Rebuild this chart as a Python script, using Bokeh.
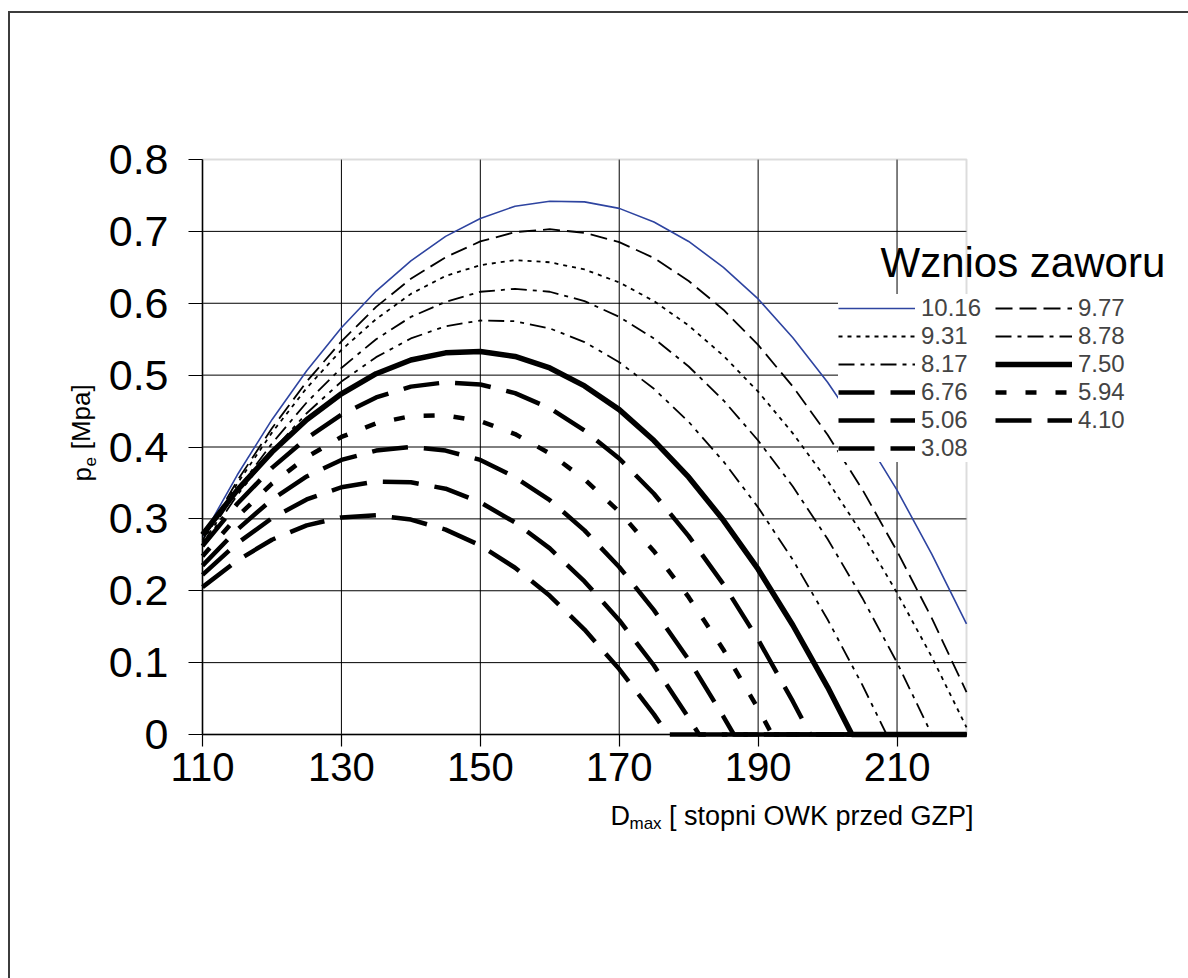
from bokeh.plotting import figure
from bokeh.models import Legend, LegendItem, Label, FixedTicker, Range1d, BoxAnnotation
from bokeh.embed import file_html
from bokeh.resources import INLINE

# ---------------- data ----------------
x_ticks = [110, 130, 150, 170, 190, 210]
y_ticks = [0, 0.1, 0.2, 0.3, 0.4, 0.5, 0.6, 0.7, 0.8]
y_tick_labels = ["0", "0.1", "0.2", "0.3", "0.4", "0.5", "0.6", "0.7", "0.8"]

lift_labels = ["10.16", "9.77", "9.31", "8.78", "8.17", "7.50",
               "6.76", "5.94", "5.06", "4.10", "3.08"]

x_full = [110, 115, 120, 125, 130, 135, 140, 145, 150, 155, 160, 165,
          170, 175, 180, 185, 190, 195, 200, 205, 210, 215, 220]

y_10_16 = [0.275, 0.361, 0.438, 0.506, 0.566, 0.617, 0.659, 0.693, 0.718, 0.735, 0.742, 0.741,
           0.732, 0.713, 0.686, 0.650, 0.606, 0.552, 0.490, 0.419, 0.340, 0.251, 0.154]
y_9_77 = [0.270, 0.353, 0.426, 0.491, 0.547, 0.595, 0.634, 0.664, 0.686, 0.699, 0.703, 0.698,
          0.685, 0.663, 0.631, 0.591, 0.542, 0.484, 0.417, 0.341, 0.255, 0.162, 0.059]
y_9_31 = [0.268, 0.349, 0.420, 0.482, 0.535, 0.578, 0.613, 0.638, 0.653, 0.660, 0.657, 0.647,
          0.629, 0.603, 0.569, 0.527, 0.477, 0.419, 0.353, 0.279, 0.197, 0.108, 0.010]
y_8_78 = [0.265, 0.340, 0.405, 0.462, 0.510, 0.550, 0.581, 0.602, 0.616, 0.620, 0.616, 0.603,
          0.581, 0.551, 0.512, 0.465, 0.409, 0.345, 0.272, 0.190, 0.100, 0.0, 0.0]

x_8_17 = [110, 115, 120, 125, 130, 135, 140, 145, 150, 155, 160, 165, 170, 175, 180, 185,
          190, 195, 200, 205, 208.5, 220]
y_8_17 = [0.262, 0.333, 0.394, 0.447, 0.491, 0.525, 0.551, 0.568, 0.576, 0.575, 0.565, 0.546,
          0.518, 0.481, 0.435, 0.380, 0.316, 0.243, 0.160, 0.069, 0.0, 0.0]

x_7_50 = [110, 115, 120, 125, 130, 135, 140, 145, 150, 155, 160, 165, 170, 175, 180, 185,
          190, 195, 200, 203.5, 220]
y_7_50 = [0.278, 0.340, 0.393, 0.438, 0.474, 0.502, 0.521, 0.531, 0.533, 0.526, 0.510, 0.485,
          0.452, 0.409, 0.358, 0.298, 0.230, 0.152, 0.066, 0.0, 0.0]

x_6_76 = [110, 115, 120, 125, 130, 135, 140, 145, 150, 155, 160, 165, 170, 175, 180, 185,
          190, 195, 197.5, 220]
y_6_76 = [0.262, 0.321, 0.371, 0.412, 0.445, 0.469, 0.484, 0.490, 0.487, 0.475, 0.454, 0.423,
          0.384, 0.335, 0.276, 0.209, 0.132, 0.046, 0.0, 0.0]

x_5_94 = [110, 115, 120, 125, 130, 135, 140, 145, 150, 155, 160, 165, 170, 175, 180, 185,
          190, 192, 220]
y_5_94 = [0.248, 0.303, 0.349, 0.386, 0.414, 0.433, 0.443, 0.444, 0.436, 0.418, 0.391, 0.355,
          0.310, 0.255, 0.191, 0.118, 0.036, 0.0, 0.0]

x_5_06 = [110, 115, 120, 125, 130, 135, 140, 145, 150, 155, 160, 165, 170, 175, 180, 185,
          186.5, 220]
y_5_06 = [0.235, 0.285, 0.327, 0.359, 0.382, 0.395, 0.400, 0.395, 0.382, 0.358, 0.326, 0.284,
          0.233, 0.173, 0.104, 0.025, 0.0, 0.0]

x_4_10 = [110, 115, 120, 125, 130, 135, 140, 145, 150, 155, 160, 165, 170, 175, 180, 181.5, 220]
y_4_10 = [0.222, 0.266, 0.301, 0.327, 0.344, 0.352, 0.351, 0.342, 0.323, 0.295, 0.259, 0.213,
          0.159, 0.096, 0.023, 0.0, 0.0]

x_3_08 = [110, 115, 120, 125, 130, 135, 140, 145, 150, 155, 160, 165, 170, 175, 177, 220]
y_3_08 = [0.205, 0.242, 0.271, 0.291, 0.302, 0.305, 0.299, 0.285, 0.263, 0.232, 0.193, 0.146,
          0.091, 0.028, 0.0, 0.0]

series_x = [x_full, x_full, x_full, x_full, x_8_17, x_7_50, x_6_76, x_5_94, x_5_06, x_4_10, x_3_08]
series_y = [y_10_16, y_9_77, y_9_31, y_8_78, y_8_17, y_7_50, y_6_76, y_5_94, y_5_06, y_4_10, y_3_08]

# ---------------- styles ----------------
styles = [
    dict(line_color="#2E44A0", line_width=1.6, line_dash="solid"),
    dict(line_color="black", line_width=1.8, line_dash="17 7"),
    dict(line_color="black", line_width=1.8, line_dash="4 5"),
    dict(line_color="black", line_width=1.8, line_dash="16 6 4 6"),
    dict(line_color="black", line_width=1.8, line_dash="16 6 4 6 4 6"),
    dict(line_color="black", line_width=5.5, line_dash="solid"),
    dict(line_color="black", line_width=4.5, line_dash="36 16"),
    dict(line_color="black", line_width=4.5, line_dash="11 19"),
    dict(line_color="black", line_width=4.5, line_dash="36 16"),
    dict(line_color="black", line_width=4.5, line_dash="36 16"),
    dict(line_color="black", line_width=4.5, line_dash="36 16"),
]

FONT = "Liberation Sans"
NBSP = "\u00a0"

# page geometry: canvas origin on the page and plot-area rectangle
CX, CY = 10, 13
CW, CH = 1188 - CX, 978 - CY
FL, FT, FR, FB = 202, 159, 966, 734
XMIN, XMAX, YMIN, YMAX = 110, 220, 0, 0.8
KX = (XMAX - XMIN) / (FR - FL)
KY = (YMAX - YMIN) / (FB - FT)

x_range = Range1d(XMIN - (FL - CX) * KX, XMAX + (CX + CW - FR) * KX)
y_range = Range1d(YMIN - (CY + CH - FB) * KY, YMAX + (FT - CY) * KY)


def to_data(px, py):
    return XMIN + (px - FL) * KX, YMIN + (FB - py) * KY


p = figure(frame_width=CW, frame_height=CH, x_range=x_range, y_range=y_range,
           output_backend="svg", toolbar_location=None, min_border=0,
           margin=(11, 0, 0, 8),
           styles={"border-left": "2px solid #3c3c3c", "border-top": "2px solid #3c3c3c"})

p.background_fill_color = "white"
p.border_fill_color = "white"
p.outline_line_color = None
p.grid.visible = False

# grid lines inside the plot area only (from the tick lists)
gx = x_ticks[1:]
gy = y_ticks[1:-1]
p.segment(x0=gx, y0=[YMIN] * len(gx), x1=gx, y1=[YMAX] * len(gx),
          line_color="black", line_width=1, level="underlay")
p.segment(x0=[XMIN] * len(gy), y0=gy, x1=[XMAX] * len(gy), y1=gy,
          line_color="black", line_width=1, level="underlay")

# plot-area border (top / right in grey)
p.add_layout(BoxAnnotation(left=XMIN, right=XMAX, bottom=YMIN, top=YMAX,
                           fill_alpha=0, line_color="#8c8c8c", line_width=2,
                           level="underlay"))

# axes pinned to the plot area
p.xaxis.fixed_location = YMIN
p.yaxis.fixed_location = XMIN
p.xaxis.bounds = (XMIN, XMAX)
p.yaxis.bounds = (YMIN, YMAX)
for ax in (p.xaxis[0], p.yaxis[0]):
    ax.axis_line_color = "black"
    ax.axis_line_width = 1.5
    ax.major_tick_line_color = "black"
    ax.major_tick_line_width = 1.2
    ax.major_tick_in = 0
    ax.minor_tick_line_color = None
    ax.major_label_text_font = FONT
    ax.major_label_text_color = "black"

p.xaxis.major_label_text_font_size = "40px"
p.yaxis.major_label_text_font_size = "43px"
p.xaxis.ticker = FixedTicker(ticks=x_ticks)
p.yaxis.ticker = FixedTicker(ticks=y_ticks)
p.yaxis.major_label_overrides = {t: s for t, s in zip(y_ticks, y_tick_labels)}
p.xaxis.major_tick_out = 12
p.yaxis.major_tick_out = 14
p.yaxis.major_label_standoff = 20
p.xaxis.major_label_standoff = 6

# curves
renderers = []
for xs, ys, st in zip(series_x, series_y, styles):
    r = p.line(xs, ys, line_join="round", **st)
    renderers.append(r)

# legend: two columns filled column by column -> reorder to read row by row
order = [0, 2, 4, 6, 8, 10, 1, 3, 5, 7, 9]
items = [LegendItem(label=lift_labels[i], renderers=[renderers[i]]) for i in order]
leg_x, leg_y = 838 - CX, (CY + CH) - 462
legend = Legend(items=items, ncols=2, location=(leg_x, leg_y),
                glyph_width=77, glyph_height=20, label_standoff=6,
                label_text_font=FONT, label_text_font_size="24px",
                label_height=20, label_width=74, spacing=0, padding=4, margin=0,
                background_fill_color="white", background_fill_alpha=1,
                border_line_color=None, click_policy="none")
p.add_layout(legend, "center")


def add_text(px, py, text, size, angle=0, align="left", baseline="middle"):
    x, y = to_data(px, py)
    p.add_layout(Label(x=x, y=y, text=text, text_font=FONT, text_font_size=size,
                       text_color="black", angle=angle, text_align=align,
                       text_baseline=baseline))


# legend title
add_text(880, 262, "Wznios zaworu", "42px")

# x-axis label with subscript
add_text(610, 815, "D", "27px")
add_text(629, 823, "max", "17px")
add_text(661, 815, NBSP + "[ stopni OWK przed GZP]", "27px")

# y-axis label with subscript (rotated)
add_text(81, 481, "p", "26px", angle=1.5708)
add_text(89, 466, "e", "17px", angle=1.5708)
add_text(81, 456, NBSP + "[Mpa]", "26px", angle=1.5708)

open("out.html", "w").write(file_html(p, INLINE))
